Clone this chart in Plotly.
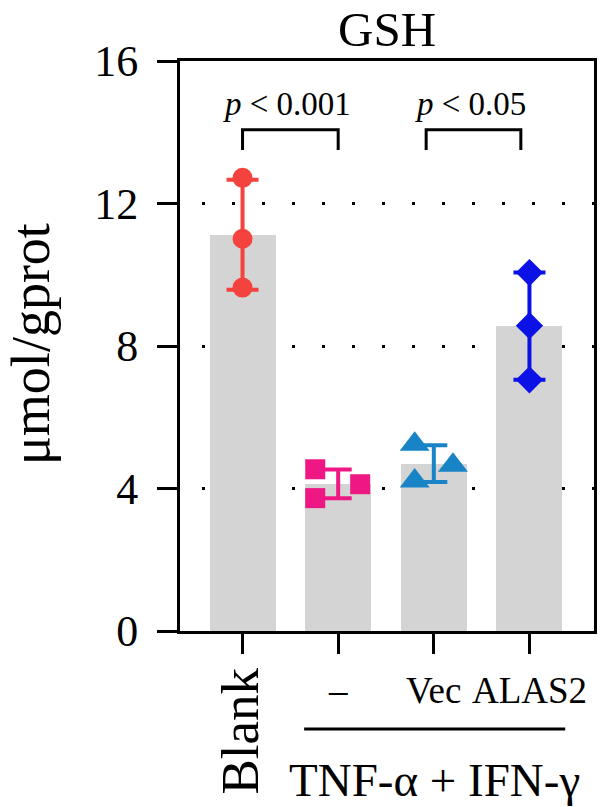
import numpy as np
import plotly.graph_objects as go

# ---- data ----
categories = ["Blank", "–", "Vec", "ALAS2"]
blank = [12.72, 11.01, 9.64]
tnf_only = [4.54, 3.73, 4.12]
vec = [5.24, 4.21, 4.65]
alas2 = [10.06, 8.57, 7.05]
groups = [blank, tnf_only, vec, alas2]
jitter = [[0, 0, 0], [-0.24, -0.24, 0.23], [-0.2, -0.2, 0.2], [0, 0, 0]]
y_ticks = [0, 4, 8, 12, 16]
p_labels = ["<i>p</i> < 0.001", "<i>p</i> < 0.05"]

# ---- styles ----
colors = ["#F4423F", "#EE1783", "#1884C6", "#0C12E6"]
symbols = ["circle", "square", "triangle-up", "diamond"]
msizes = [20, 20, 26, 21]
capw = [16, 13.5, 13.5, 16]
FONT = "Liberation Serif"

xpos = list(range(len(categories)))
means = [float(np.mean(g)) for g in groups]
sds = [float(np.std(g, ddof=1)) for g in groups]

fig = go.Figure()
fig.add_trace(go.Bar(x=xpos, y=means, width=0.69, marker=dict(color="#D4D4D4", line=dict(width=0)),
                     showlegend=False))
for i, g in enumerate(groups):
    fig.add_trace(go.Scatter(x=[xpos[i]], y=[means[i]], mode="markers",
                             marker=dict(size=1, color="rgba(0,0,0,0)"),
                             error_y=dict(type="data", array=[sds[i]], visible=True,
                                          color=colors[i], thickness=4, width=capw[i]),
                             showlegend=False))
for i, g in enumerate(groups):
    fig.add_trace(go.Scatter(x=[xpos[i] + j for j in jitter[i]], y=g, mode="markers",
                             marker=dict(symbol=symbols[i], size=msizes[i], color=colors[i],
                                         line=dict(width=0)),
                             cliponaxis=False, showlegend=False))

# brackets
brackets = [(0, 1), (1.92, 2.91)]
for (a, b) in brackets:
    fig.add_shape(type="path", xref="x", yref="y",
                  path=f"M {a},13.5 L {a},14.07 L {b},14.07 L {b},13.5",
                  line=dict(color="black", width=3))
for (a, b), lab in zip(brackets, p_labels):
    fig.add_annotation(x=(a + b) / 2 - 0.03, y=14.8, xref="x", yref="y", text=lab, showarrow=False,
                       font=dict(family=FONT, size=33, color="black"), yanchor="middle")

def py(px):
    return (631 - px) / 570.0

# x labels
fig.add_annotation(x=0, y=py(731), xref="x", yref="paper", text=categories[0], textangle=-90,
                   showarrow=False, xshift=-3, font=dict(family=FONT, size=53, color="black"),
                   yanchor="middle", xanchor="center")
for i in range(1, 4):
    fig.add_annotation(x=xpos[i], y=py(690), xref="x", yref="paper", text=categories[i],
                       showarrow=False, font=dict(family=FONT, size=37, color="black"),
                       yanchor="middle", xanchor="center")
fig.add_shape(type="line", xref="x", yref="paper", x0=0.644, x1=3.374, y0=py(729), y1=py(729),
              line=dict(color="black", width=3))
fig.add_annotation(x=2.01, y=py(780), xref="x", yref="paper", text="TNF-α + IFN-γ",
                   showarrow=False, font=dict(family=FONT, size=47, color="black"),
                   yanchor="middle", xanchor="center")
# title
fig.add_annotation(x=0.5, y=py(0), xref="paper", yref="paper", text="GSH", showarrow=False,
                   font=dict(family=FONT, size=49, color="black"), yanchor="top")
# y title
fig.add_annotation(x=(30 - 180) / 417.0, y=py(344), xref="paper", yref="paper", text="μmol/gprot",
                   textangle=-90, showarrow=False, font=dict(family=FONT, size=54, color="black"),
                   yanchor="middle", xanchor="center")

fig.update_layout(
    width=600, height=807,
    margin=dict(l=180, r=3, t=61, b=176),
    paper_bgcolor="white", plot_bgcolor="white",
    bargap=0, showlegend=False,
    font=dict(family=FONT, color="black"),
)
fig.update_xaxes(range=[-0.654, 3.675], tickvals=xpos, showticklabels=False, ticks="outside",
                 ticklen=20, tickwidth=3, tickcolor="black", showline=True, linewidth=3,
                 linecolor="black", mirror=True, showgrid=False, zeroline=False)
fig.update_yaxes(range=[0, 16], tickvals=y_ticks, ticks="outside", ticklen=20, tickwidth=3,
                 tickcolor="black", showline=True, linewidth=3, linecolor="black", mirror=True,
                 showgrid=True, gridcolor="black", gridwidth=3, griddash="0px,22px,3px,5px",
                 zeroline=False, tickfont=dict(family=FONT, size=44, color="black"),
                 ticklabelstandoff=10)

fig.write_html("out.html")
